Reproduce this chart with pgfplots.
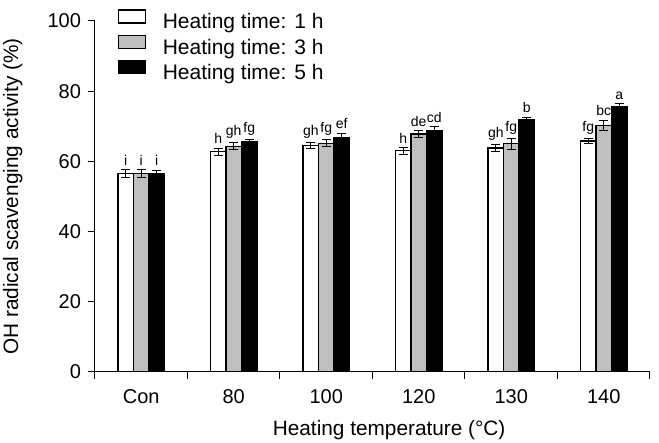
\documentclass[border=0pt]{standalone}
\usepackage{pgfplots}
\pgfplotsset{compat=1.18}
\usepackage{pgfplotstable}
\usepackage{fontspec}
\setmainfont{Liberation Sans}
\usetikzlibrary{calc}

% columns: category position, mean, error, letter
\pgfplotstableread{
x y err lab
0 56.5 1.2 i
1 62.8 1.0 h
2 64.6 0.8 gh
3 63.0 1.0 h
4 63.8 0.9 gh
5 65.8 0.7 fg
}\onehour
\pgfplotstableread{
x y err lab
0 56.5 1.2 i
1 64.3 1.0 gh
2 65.2 1.0 fg
3 67.8 1.0 de
4 65.0 1.5 fg
5 70.2 1.5 bc
}\threehour
\pgfplotstableread{
x y err lab
0 56.5 1.0 i
1 65.5 0.6 fg
2 66.8 1.2 ef
3 68.8 1.0 cd
4 71.8 0.8 b
5 75.6 0.8 a
}\fivehour

\definecolor{bargray}{RGB}{191,191,191}

\begin{document}
\begin{tikzpicture}
\begin{axis}[
    scale only axis,
    width=277.5pt, height=175.5pt,
    xmin=-0.5, xmax=5.5,
    ymin=0, ymax=100,
    axis lines*=left,
    axis line style={line width=0.5pt},
    tick align=outside,
    tick style={black, line width=0.5pt},
    major tick length=3.5pt,
    minor tick length=3.5pt,
    xtick={0,...,5},
    xticklabels={Con,80,100,120,130,140},
    major x tick style={draw=none},
    minor xtick={-0.5,0.5,...,5.5},
    ytick={0,20,...,100},
    /pgf/number format/assume math mode=true,
    ticklabel style={font=\fontsize{10}{11}\selectfont},
    xticklabel style={anchor=center, yshift=-9pt},
    label style={font=\fontsize{10.4}{11}\selectfont},
    xlabel={Heating temperature (°C)},
    xlabel style={at={(axis description cs:0.53,-0.165)}, anchor=center},
    ylabel={OH radical scavenging activity (\%)},
    ylabel style={at={(axis description cs:-0.148,0.5)}, anchor=center},
    ybar,
    bar width=0.167,
    legend style={at={(rel axis cs:0.04,1)}, anchor=north west, yshift=6pt,
        draw=none, fill=none, inner sep=0pt, row sep=0.3pt, column sep=0pt,
        font=\fontsize{10.5}{11}\selectfont,
        nodes={inner sep=0pt, text height=7.5pt, text depth=2.5pt}},
    legend cell align=left,
    legend image code/.code={
        \draw[#1, line width=0.6pt] (0pt,0.5pt) rectangle (13.5pt,7pt);
        \path (22pt,0pt);
    },
    point meta=explicit symbolic,
    nodes near coords,
    visualization depends on={\thisrow{err} \as \myerr},
    nodes near coords style={font=\fontsize{7}{8}\selectfont, text=black,
        anchor=south, inner sep=1.5pt, yshift={\myerr*1.755pt+0.3pt}},
    error bars/y dir=both,
    error bars/y explicit,
    error bars/error bar style={black, line width=0.5pt},
    error bars/error mark options={rotate=90, black, mark size=2.3pt, line width=0.5pt},
]
\addplot[bar shift=-0.167, fill=white, draw=black, line width=0.6pt]
    table[x=x, y=y, y error=err, meta=lab] {\onehour};
\addlegendentry{Heating time: 1 h}
\addplot[bar shift=0, fill=bargray, draw=black, line width=0.6pt]
    table[x=x, y=y, y error=err, meta=lab] {\threehour};
\addlegendentry{Heating time: 3 h}
\addplot[bar shift=0.167, fill=black, draw=black, line width=0.6pt]
    table[x=x, y=y, y error=err, meta=lab] {\fivehour};
\addlegendentry{Heating time: 5 h}
\end{axis}
\pgfresetboundingbox
\path ($(current axis.south west)+(-47.5pt,-35.5pt)$) rectangle ($(current axis.north east)+(4.5pt,10.5pt)$);
\end{tikzpicture}
\end{document}
